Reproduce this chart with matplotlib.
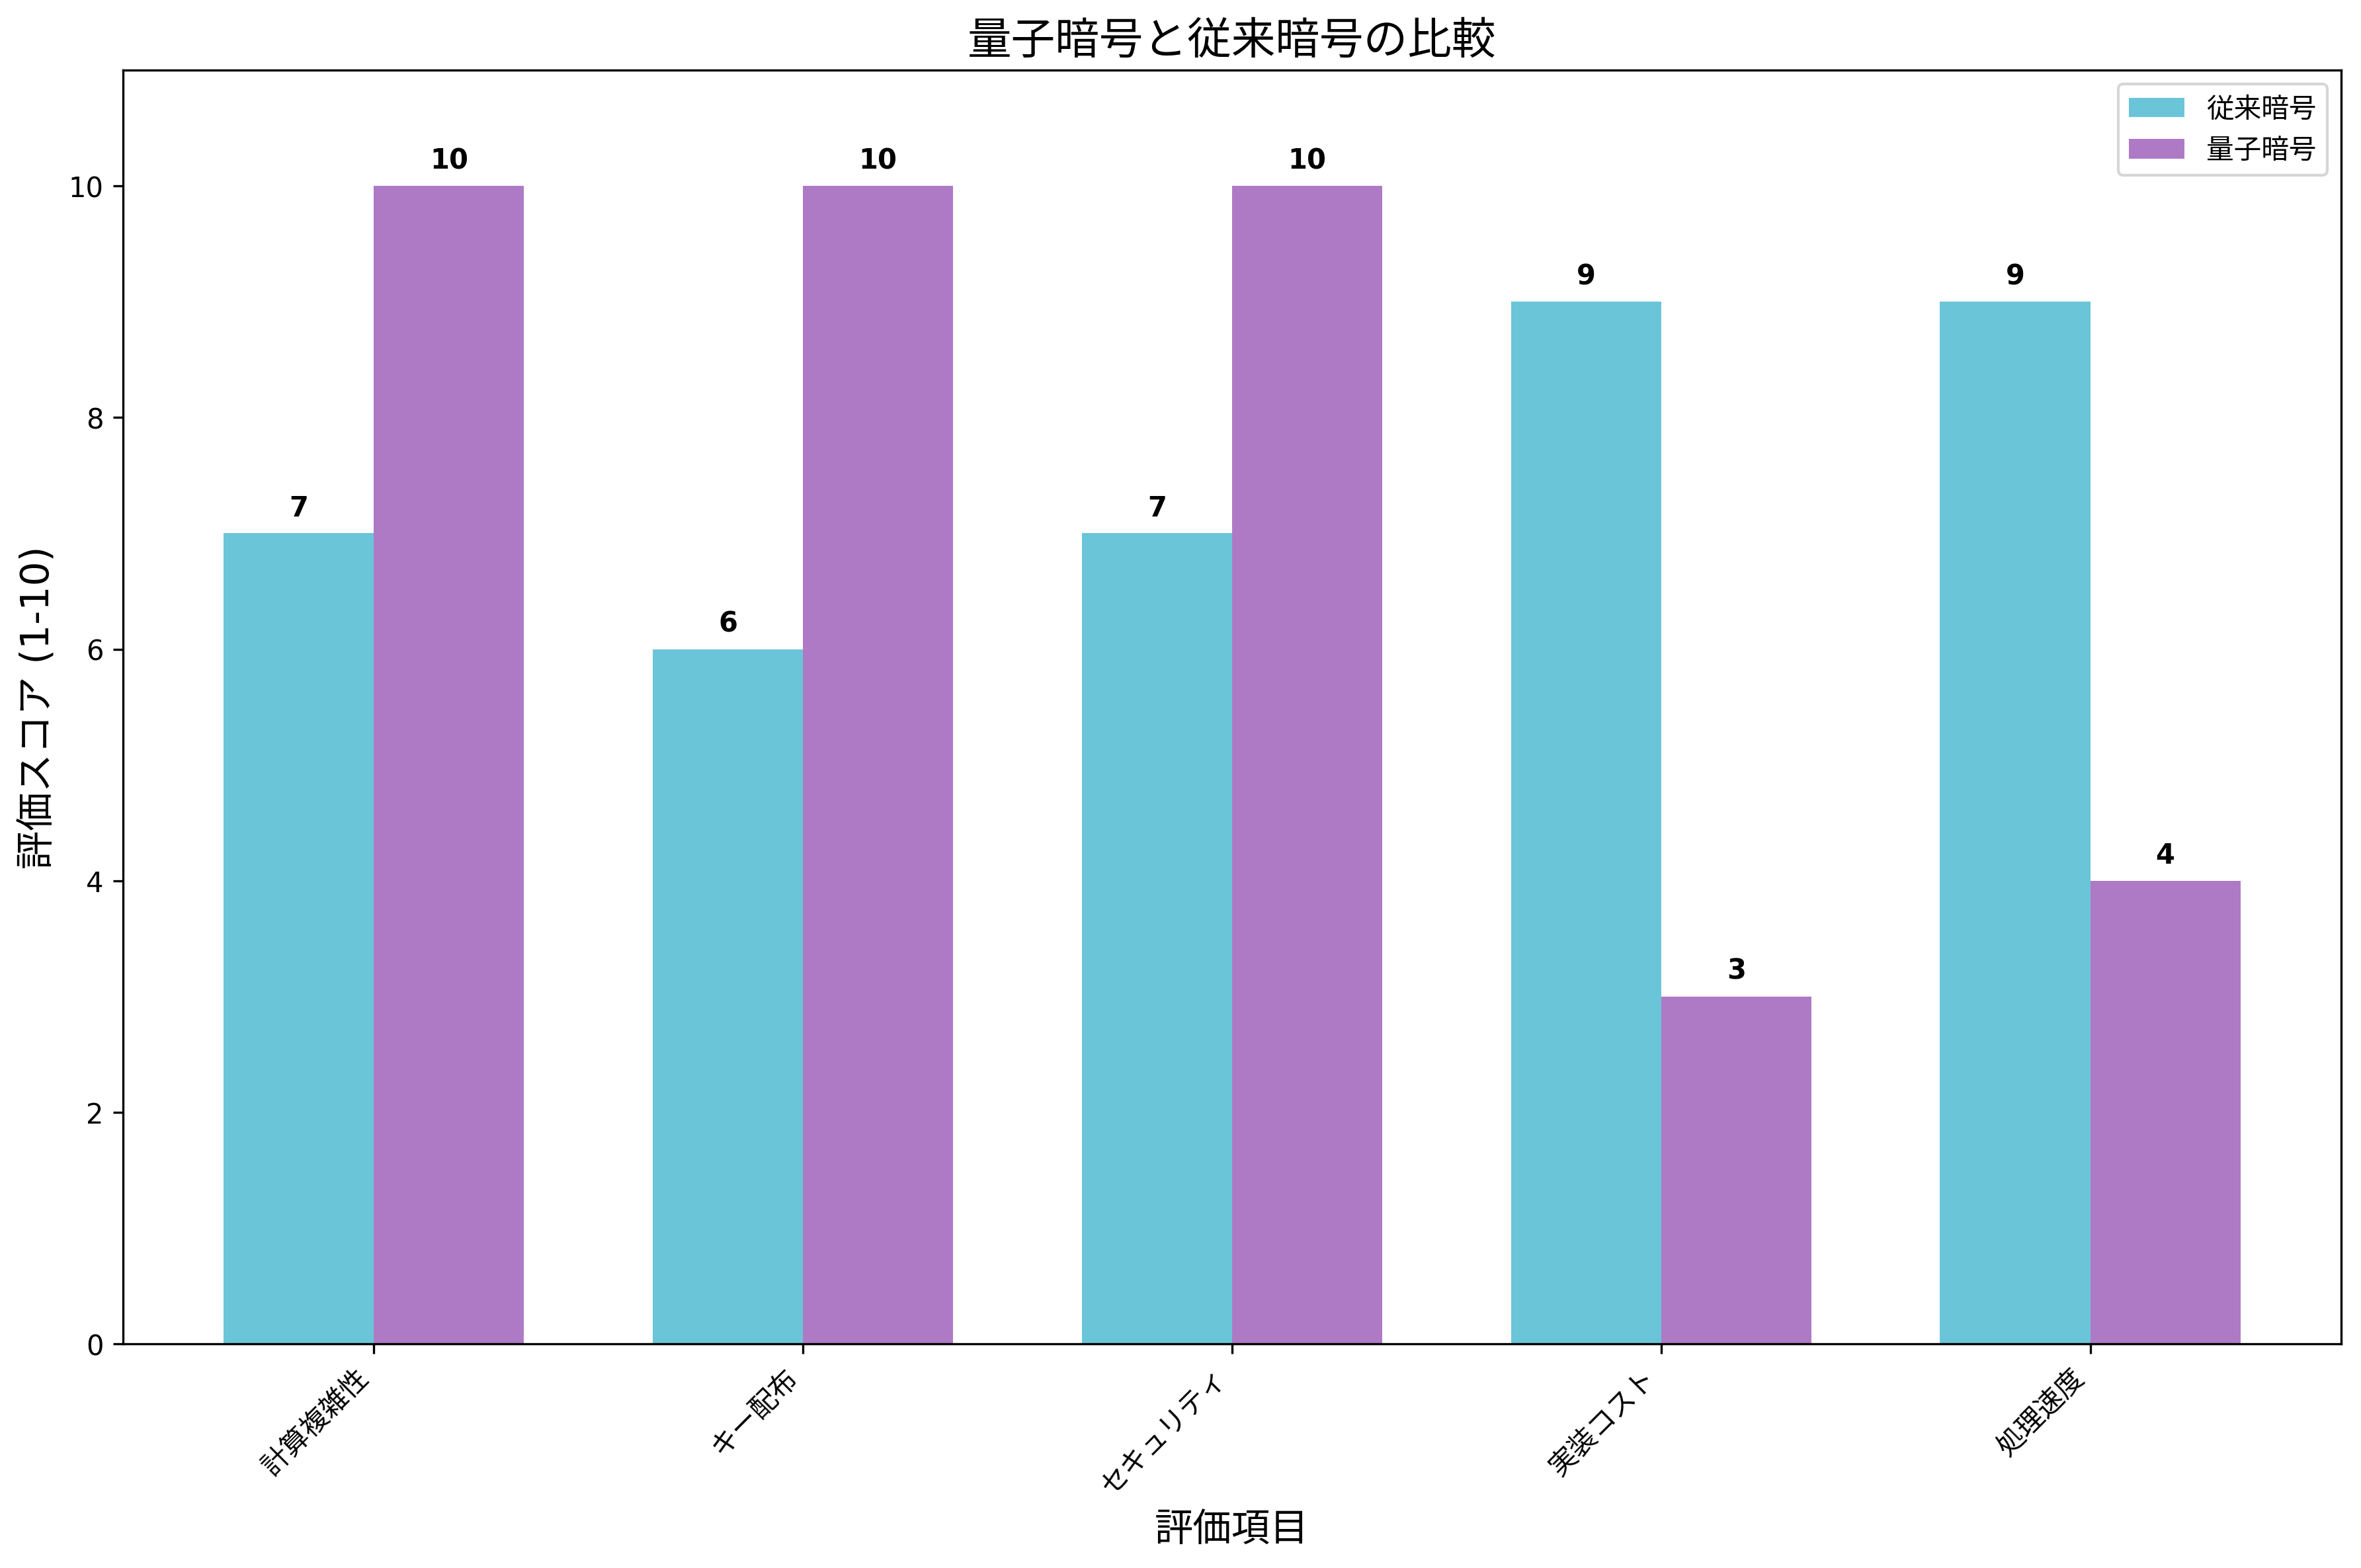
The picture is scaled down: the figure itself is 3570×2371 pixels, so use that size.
import numpy as np
import matplotlib
matplotlib.use('Agg')
import matplotlib.pyplot as plt

plt.rcParams['font.family'] = ['DejaVu Sans', 'Noto Sans CJK JP']

categories = ['計算複雑性', 'キー配布', 'セキュリティ', '実装コスト', '処理速度']
classical = [7, 6, 7, 9, 9]
quantum = [10, 10, 10, 3, 4]

x = np.arange(len(categories))
width = 0.35

fig, ax = plt.subplots(figsize=(12, 8))
bars1 = ax.bar(x - width / 2, classical, width, label='従来暗号', color='#6BC5D9')
bars2 = ax.bar(x + width / 2, quantum, width, label='量子暗号', color='#AF7AC5')

for bars in (bars1, bars2):
    for b in bars:
        h = b.get_height()
        ax.text(b.get_x() + b.get_width() / 2, h + 0.1, f'{int(h)}',
                ha='center', va='bottom', fontsize=10, fontweight='bold')

ax.set_title('量子暗号と従来暗号の比較', fontsize=16)
ax.set_xlabel('評価項目', fontsize=14)
ax.set_ylabel('評価スコア (1-10)', fontsize=14)
ax.set_xticks(x)
ax.set_xticklabels(categories, rotation=45, ha='right')
ax.set_ylim(0, 11)
ax.legend()

plt.tight_layout()
plt.savefig('out.png', dpi=300, bbox_inches='tight')
